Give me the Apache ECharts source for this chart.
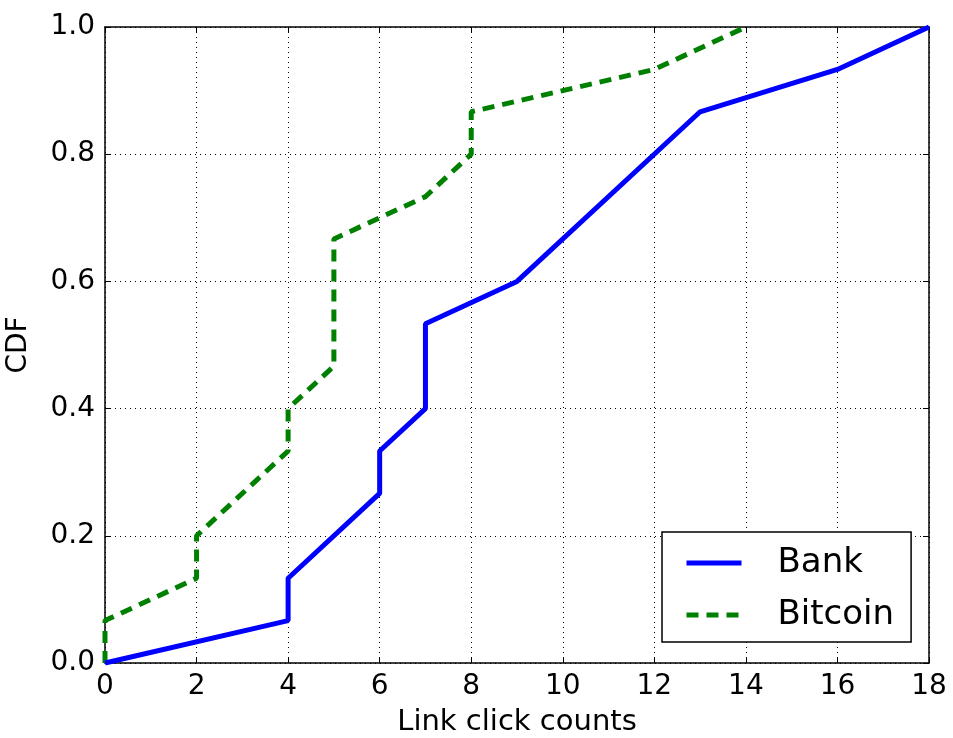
<!DOCTYPE html>
<html>
<head>
<meta charset="utf-8">
<script src="https://cdn.jsdelivr.net/npm/echarts@6/dist/echarts.min.js"></script>
<style>
  html, body { margin: 0; padding: 0; background: #fff; }
  #chart { width: 953px; height: 738px; }
</style>
</head>
<body>
<div id="chart"></div>
<script>
// CDF step points
var bankX = [0, 4, 4, 6, 6, 7, 7, 9, 13, 16, 18];
var bankY = [0, 0.0667, 0.1333, 0.2667, 0.3333, 0.4, 0.5333, 0.6, 0.8667, 0.9333, 1.0];
var bitcoinX = [0, 0, 2, 2, 4, 4, 5, 5, 7, 8, 8, 12, 14];
var bitcoinY = [0, 0.0667, 0.1333, 0.2, 0.3333, 0.4, 0.4667, 0.6667, 0.7333, 0.8, 0.8667, 0.9333, 1.0];

var xTicks = [0, 2, 4, 6, 8, 10, 12, 14, 16, 18];
var yTicks = [0, 0.2, 0.4, 0.6, 0.8, 1.0];

function pairs(xs, ys) {
    var out = [];
    for (var i = 0; i < xs.length; i++) out.push([xs[i], ys[i]]);
    return out;
}

var font = "DejaVu Sans";
var frame = { show: true, onZero: false, lineStyle: { color: "#000", width: 1.5 } };
var tick = { show: true, inside: true, length: 6, lineStyle: { color: "#000", width: 1 } };
var grid = { show: true, lineStyle: { color: "#000", width: 1, type: [1, 4] } };

var myChart = echarts.init(document.getElementById("chart"));
var option = {
    backgroundColor: "#fff",
    animation: false,
    grid: { left: 105, right: 24, top: 27, bottom: 75, containLabel: false, outerBoundsMode: "none" },
    xAxis: [
        {
            type: "value", min: xTicks[0], max: xTicks[xTicks.length - 1], interval: 2,
            position: "bottom",
            name: "Link click counts", nameLocation: "middle", nameGap: 45,
            nameTextStyle: { fontFamily: font, fontSize: 29, color: "#000" },
            axisLine: frame, axisTick: tick, splitLine: grid,
            axisLabel: { fontFamily: font, fontSize: 28, color: "#000", margin: 10 }
        },
        {
            type: "value", min: xTicks[0], max: xTicks[xTicks.length - 1], interval: 2,
            position: "top",
            axisLine: frame, axisTick: tick, splitLine: { show: false }, axisLabel: { show: false }
        }
    ],
    yAxis: [
        {
            type: "value", min: yTicks[0], max: yTicks[yTicks.length - 1], interval: 0.2,
            position: "left",
            name: "CDF", nameLocation: "middle", nameGap: 72,
            nameTextStyle: { fontFamily: font, fontSize: 28, color: "#000" },
            axisLine: frame, axisTick: tick, splitLine: grid,
            axisLabel: {
                fontFamily: font, fontSize: 28, color: "#000", margin: 10,
                formatter: function (v) { return v.toFixed(1); }
            }
        },
        {
            type: "value", min: yTicks[0], max: yTicks[yTicks.length - 1], interval: 0.2,
            position: "right",
            axisLine: frame, axisTick: tick, splitLine: { show: false }, axisLabel: { show: false }
        }
    ],
    legend: {
        orient: "vertical",
        left: 662, top: 532,
        padding: [14, 17, 10, 22],
        itemGap: 18,
        itemWidth: 55, itemHeight: 34,
        borderColor: "#000", borderWidth: 1.5,
        backgroundColor: "#fff",
        itemStyle: { opacity: 0 },
        lineStyle: { width: 5 },
        textStyle: { fontFamily: font, fontSize: 34, color: "#000", padding: [0, 0, 0, 31] },
        data: ["Bank", "Bitcoin"]
    },
    series: [
        {
            name: "Bank", type: "line", symbol: "none",
            data: pairs(bankX, bankY),
            lineStyle: { color: "#0000ff", width: 5 },
            itemStyle: { color: "#0000ff" },
            z: 3
        },
        {
            name: "Bitcoin", type: "line", symbol: "none",
            data: pairs(bitcoinX, bitcoinY),
            lineStyle: { color: "#008000", width: 5, type: [12, 8] },
            itemStyle: { color: "#008000" },
            z: 2
        }
    ]
};
option && myChart.setOption(option);
</script>
</body>
</html>
